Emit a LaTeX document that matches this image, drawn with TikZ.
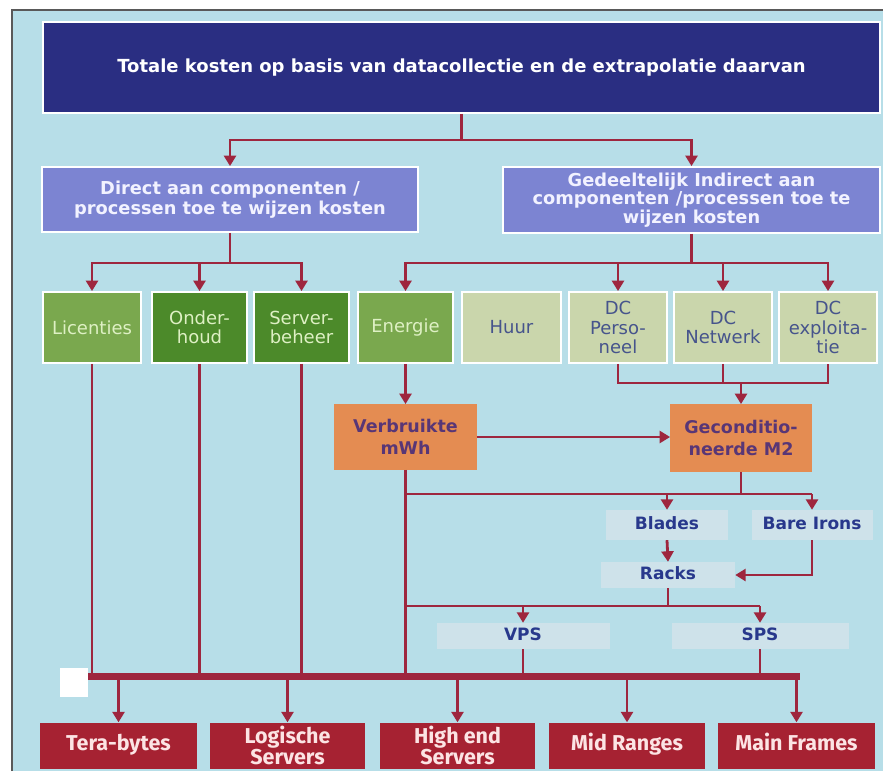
\documentclass[tikz,border=0pt]{standalone}
\usepackage{fontspec}
\setmainfont{DejaVu Sans}
\newfontfamily\capfont{Fira Sans}
\usetikzlibrary{arrows.meta}

\definecolor{bgblue}{RGB}{183,222,232}
\definecolor{navy}{RGB}{42,46,130}
\definecolor{peri}{RGB}{124,132,210}
\definecolor{greenL}{RGB}{122,168,78}
\definecolor{greenD}{RGB}{76,138,42}
\definecolor{paleG}{RGB}{202,214,172}
\definecolor{orng}{RGB}{228,140,82}
\definecolor{crimson}{RGB}{166,34,50}
\definecolor{wire}{RGB}{158,38,62}
\definecolor{labelbg}{RGB}{206,226,234}
\definecolor{labeltext}{RGB}{40,56,140}
\definecolor{greentext}{RGB}{222,240,196}
\definecolor{paletext}{RGB}{70,84,140}
\definecolor{orangetext}{RGB}{88,54,118}
\definecolor{redtext}{RGB}{252,228,228}

\tikzset{
  box/.style={draw=white, line width=1.8pt, inner sep=1pt, align=center, anchor=center},
  topbox/.style={box, fill=navy, text=white, font=\bfseries\fontsize{18}{21}\selectfont},
  midbox/.style={box, fill=peri, text=white!95!blue, font=\bfseries\fontsize{17.8}{20}\selectfont},
  lightgreen/.style={box, fill=greenL, text=greentext, font=\fontsize{18}{19.5}\selectfont},
  darkgreen/.style={box, fill=greenD, text=greentext, font=\fontsize{18}{19.5}\selectfont},
  palebox/.style={box, fill=paleG, text=paletext, font=\fontsize{18}{19.5}\selectfont},
  orangebox/.style={box, fill=orng, draw=orng, text=orangetext, font=\bfseries\fontsize{17.5}{22}\selectfont},
  tag/.style={fill=labelbg, text=labeltext, inner sep=0pt, anchor=center, text height=13pt, text depth=4pt, font=\bfseries\fontsize{17}{19}\selectfont},
  redbox/.style={fill=crimson, text=redtext, inner sep=0pt, align=center, anchor=center, font=\capfont\bfseries\fontsize{21.5}{21}\selectfont},
  oneline/.style={text height=15pt, text depth=4.5pt},
  wireline/.style={draw=wire, line width=2.8pt},
  arr/.style={wireline, -{Triangle[width=12pt,length=10.5pt]}},
}

\begin{document}
\begin{tikzpicture}[x=1pt,y=-1pt]
\useasboundingbox (0,0) rectangle (890,771);
\fill[white] (0,0) rectangle (890,771);
\fill[bgblue] (12,10) rectangle (883,771);
\draw[line width=1.2pt, black!65] (12,771) -- (12,10) -- (883,10);

% headline and the two cost groups
\node[topbox, minimum width=837pt, minimum height=91pt] (top) at (461.5,67.5)
  {Totale kosten op basis van datacollectie en de extrapolatie daarvan};
\node[midbox, minimum width=376pt, minimum height=65pt] (direct) at (230,199.5)
  {Direct aan componenten /\\processen toe te wijzen kosten};
\node[midbox, minimum width=377pt, minimum height=66pt, font=\bfseries\fontsize{17.8}{18.5}\selectfont] (indirect) at (691.5,200)
  {Gedeeltelijk Indirect aan\\componenten /processen toe te\\wijzen kosten};

% cost components
\node[lightgreen, minimum width=98pt, minimum height=71pt] (licenties) at (92,327.5) {Licenties};
\node[darkgreen, minimum width=95pt, minimum height=71pt] (onderhoud) at (199.5,327.5) {Onder-\\houd};
\node[darkgreen, minimum width=95pt, minimum height=71pt] (serverbeheer) at (301.5,327.5) {Server-\\beheer};
\node[lightgreen, minimum width=95pt, minimum height=71pt] (energie) at (405.5,327.5) {Energie};
\node[palebox, minimum width=99pt, minimum height=71pt] (huur) at (511.5,327.5) {Huur};
\node[palebox, minimum width=98pt, minimum height=71pt] (dcpers) at (618,327.5) {DC\\Perso-\\neel};
\node[palebox, minimum width=98pt, minimum height=71pt] (dcnet) at (723,327.5) {DC\\Netwerk};
\node[palebox, minimum width=98pt, minimum height=71pt] (dcexpl) at (828,327.5) {DC\\exploita-\\tie};

% derived quantities
\node[orangebox, minimum width=141pt, minimum height=64pt] (mwh) at (405.5,437) {Verbruikte\\mWh};
\node[orangebox, minimum width=140pt, minimum height=66pt] (gecond) at (741,438) {Geconditio-\\neerde M2};

\node[tag, minimum width=122pt, minimum height=30pt] (blades) at (667,525) {Blades};
\node[tag, minimum width=121pt, minimum height=30pt] (bareirons) at (812,525) {Bare Irons};
\node[tag, minimum width=134pt, minimum height=26pt] (racks) at (668,575) {Racks};
\node[tag, minimum width=173pt, minimum height=26pt] (vps) at (523,636) {VPS};
\node[tag, minimum width=177pt, minimum height=26pt] (sps) at (760,636) {SPS};

% end products
\node[redbox, oneline, minimum width=157pt, minimum height=46pt] (tera) at (118.5,745.5) {Tera-bytes};
\node[redbox, minimum width=155pt, minimum height=46pt] (logische) at (287.5,745.5) {Logische\\Servers};
\node[redbox, minimum width=155pt, minimum height=46pt] (highend) at (457.5,745.5) {High end\\Servers};
\node[redbox, oneline, minimum width=156pt, minimum height=46pt] (midranges) at (627,745.5) {Mid Ranges};
\node[redbox, oneline, minimum width=157pt, minimum height=46pt] (mainframes) at (796.5,745.5) {Main Frames};

% collecting bus
\coordinate (busL) at (88,676);
\coordinate (busR) at (800,676);

% headline to groups
\draw[arr] (top.south) -- (top.south |- 0,140) -| (direct.north);
\draw[arr] (top.south |- 0,140) -| (indirect.north);

% groups to components
\draw[wireline] (direct.south) -- (direct.south |- 0,263);
\draw[arr] (direct.south |- 0,263) -| (licenties.north);
\draw[arr] (direct.south |- 0,263) -| (onderhoud.north);
\draw[arr] (direct.south |- 0,263) -| (serverbeheer.north);
\draw[wireline] (indirect.south) -- (indirect.south |- 0,263);
\draw[arr] (indirect.south |- 0,263) -| (energie.north);
\draw[arr] (indirect.south |- 0,263) -| (dcpers.north);
\draw[arr] (indirect.south |- 0,263) -| (dcnet.north);
\draw[arr] (indirect.south |- 0,263) -| (dcexpl.north);

% DC costs to conditioned floor space
\draw[wireline] (dcpers.south) -- (dcpers.south |- 0,383) -- (dcexpl.south |- 0,383) -- (dcexpl.south);
\draw[wireline] (dcnet.south) -- (dcnet.south |- 0,383);
\draw[arr] (gecond.north |- 0,383) -- (gecond.north);

% energy
\draw[arr] (energie.south) -- (mwh.north);
\draw[arr] (mwh.east) -- (mwh.east -| gecond.west);

% hardware branch
\draw[wireline] (gecond.south) -- (gecond.south |- 0,494);
\draw[wireline] (mwh.south |- 0,494) -- (bareirons.north |- 0,494);
\draw[arr] (blades.north |- 0,494) -- (blades.north);
\draw[arr] (bareirons.north |- 0,494) -- (bareirons.north);
\draw[arr] (blades.south) -- (racks.north);
\draw[arr] (bareirons.south) |- (racks.east);
\draw[wireline] (racks.south) -- (racks.south |- 0,606);
\draw[wireline] (mwh.south |- 0,606) -- (sps.north |- 0,606);
\draw[arr] (vps.north |- 0,606) -- (vps.north);
\draw[arr] (sps.north |- 0,606) -- (sps.north);

% feeds into the bus
\draw[wireline] (licenties.south) -- (licenties.south |- busL);
\draw[wireline] (onderhoud.south) -- (onderhoud.south |- busL);
\draw[wireline] (serverbeheer.south) -- (serverbeheer.south |- busL);
\draw[wireline] (mwh.south) -- (mwh.south |- busL);
\draw[wireline] (vps.south) -- (vps.south |- busL);
\draw[wireline] (sps.south) -- (sps.south |- busL);

\draw[draw=wire, line width=7pt] (busL) -- (busR);
\fill[white] (60,668) rectangle (88,697);

% bus to end products
\draw[arr] (tera.north |- busL) -- (tera.north);
\draw[arr] (logische.north |- busL) -- (logische.north);
\draw[arr] (highend.north |- busL) -- (highend.north);
\draw[arr] (midranges.north |- busL) -- (midranges.north);
\draw[arr] (mainframes.north |- busL) -- (mainframes.north);
\end{tikzpicture}
\end{document}
